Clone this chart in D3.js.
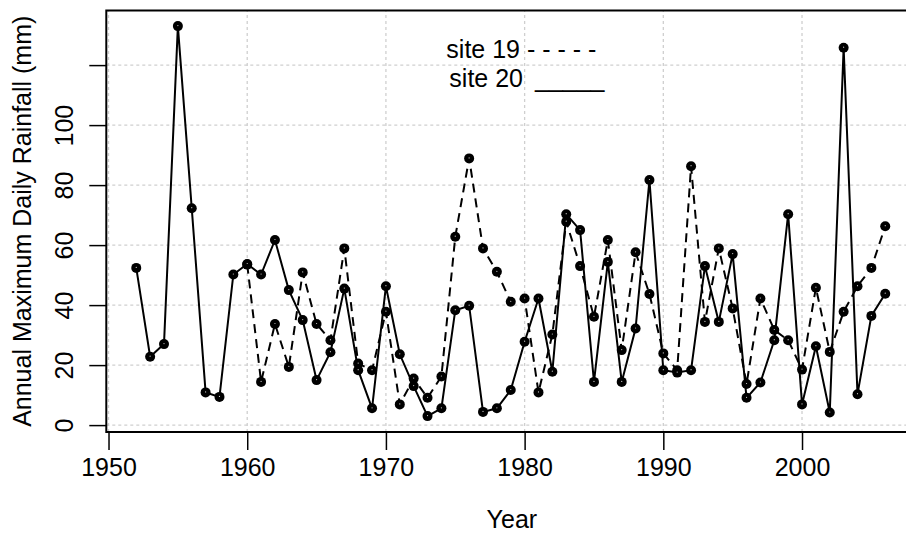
<!DOCTYPE html>
<html>
<head>
<meta charset="utf-8">
<script src="https://cdn.jsdelivr.net/npm/d3@7"></script>
<style>
  html, body { margin: 0; padding: 0; background: #fff; }
  svg { display: block; font-family: "Liberation Sans", Arial, sans-serif; }
</style>
</head>
<body>
<svg id="chart" width="906" height="535"></svg>
<script>
// ---- data ----
const years20 = [1952,1953,1954,1955,1956,1957,1958,1959,1960,1961,1962,1963,1964,1965,1966,1967,1968,1969,1970,1971,1972,1973,1974,1975,1976,1977,1978,1979,1980,1981,1982,1983,1984,1985,1986,1987,1988,1989,1990,1991,1992,1993,1994,1995,1996,1997,1998,1999,2000,2001,2002,2003,2004,2005,2006];
const site20 = [52.4,22.8,27,133,72.3,10.9,9.4,50.2,53.7,50.2,61.7,45,35,15,24.3,45.5,18.3,5.6,46.3,23.6,13,3,5.6,38.3,39.8,4.4,5.6,11.7,27.8,42.2,17.8,70.3,65,14.4,54.4,14.4,32.2,81.7,18.3,17.5,18.3,53,34.4,57,9.1,14.2,28.3,70.3,6.9,26.3,4.2,125.8,10.3,36.4,43.8];
const years19 = [1960,1961,1962,1963,1964,1965,1966,1967,1968,1969,1970,1971,1972,1973,1974,1975,1976,1977,1978,1979,1980,1981,1982,1983,1984,1985,1986,1987,1988,1989,1990,1991,1992,1993,1994,1995,1996,1997,1998,1999,2000,2001,2002,2003,2004,2005,2006];
const site19 = [53.5,14.4,33.7,19.4,50.9,33.7,28.3,58.9,20.5,18.3,37.8,6.9,15.5,9.1,16.2,62.8,88.9,58.9,51.1,41.1,42.2,10.9,30.2,67.8,53,36.1,61.7,25,57.6,43.7,23.9,18.3,86.3,34.4,58.9,38.9,13.7,42.2,31.7,28.3,18.5,45.8,24.4,37.8,46.3,52.4,66.3];
const xTicks = [1950,1960,1970,1980,1990,2000];
const yTicks = [0,20,40,60,80,100,120];
const yTickLabels = ["0","20","40","60","80","100",""];
const xTitle = "Year";
const yTitle = "Annual Maximum Daily Rainfall (mm)";
const legendLabels = ["site 19", "site 20"];
const legendStyles = ["- - - - -", "_____"];

// ---- layout ----
const svg = d3.select("#chart");
const FS = 25;
const FF = "Liberation Sans, Arial, sans-serif";
const x = d3.scaleLinear().domain([1949.84, 2008.16]).range([106.3, 915.2]);
const y = d3.scaleLinear().domain([-2.3, 138.2]).range([432, 10.5]);
const [x0, x1] = x.range();
const [yb, yt] = y.range();

// grid
const grid = svg.append("g").attr("stroke", "#cfcfcf").attr("stroke-width", 1.3).attr("stroke-dasharray", "3,3");
grid.selectAll("line.h").data(yTicks).join("line")
  .attr("x1", x0).attr("x2", x1).attr("y1", d => y(d)).attr("y2", d => y(d));
grid.selectAll("line.v").data(xTicks).join("line")
  .attr("x1", d => x(d)).attr("x2", d => x(d)).attr("y1", yb).attr("y2", yt);

// series
const pts19 = years19.map((yr, i) => [yr, site19[i]]);
const pts20 = years20.map((yr, i) => [yr, site20[i]]);
const line = d3.line().x(d => x(d[0])).y(d => y(d[1]));

svg.append("path").datum(pts19).attr("d", line)
  .attr("fill", "none").attr("stroke", "#000").attr("stroke-width", 2)
  .attr("stroke-dasharray", "9,6");
svg.append("path").datum(pts20).attr("d", line)
  .attr("fill", "none").attr("stroke", "#000").attr("stroke-width", 2);

function markers(pts) {
  const g = svg.append("g");
  g.selectAll("circle.m").data(pts).join("circle")
    .attr("cx", d => x(d[0])).attr("cy", d => y(d[1])).attr("r", 5).attr("fill", "#000");
  g.selectAll("circle.w").data(pts).join("circle")
    .attr("cx", d => x(d[0])).attr("cy", d => y(d[1]) - 0.5).attr("r", 0.6).attr("fill", "#fff").attr("opacity", 0.8);
}
markers(pts19);
markers(pts20);

// box (left, top, bottom)
svg.append("path")
  .attr("d", `M${x1},${yt}H${x0}V${yb}H${x1}`)
  .attr("fill", "none").attr("stroke", "#000").attr("stroke-width", 2);

// x axis
const xa = svg.append("g").attr("transform", `translate(0,${yb})`)
  .call(d3.axisBottom(x).tickValues(xTicks).tickFormat(d3.format("d")).tickSize(18).tickPadding(8));
xa.select(".domain").remove();
xa.selectAll(".tick line").attr("stroke", "#000").attr("stroke-width", 1.5);
xa.selectAll(".tick text").attr("font-size", FS).attr("font-family", FF).attr("fill", "#000");

// y axis
const ya = svg.append("g").attr("transform", `translate(${x0},0)`)
  .call(d3.axisLeft(y).tickValues(yTicks).tickFormat((d, i) => yTickLabels[i]).tickSize(17).tickPadding(0));
ya.select(".domain").remove();
ya.selectAll(".tick line").attr("stroke", "#000").attr("stroke-width", 1.5);
ya.selectAll(".tick text")
  .attr("font-size", FS).attr("font-family", FF).attr("fill", "#000")
  .attr("x", null).attr("dy", null).attr("text-anchor", "middle")
  .attr("transform", "translate(-33,0) rotate(-90)");

// titles
svg.append("text").attr("x", (x(1950) + x(2008.16)) / 2).attr("y", 528)
  .attr("text-anchor", "middle").attr("font-size", FS).text(xTitle);
svg.append("text").attr("transform", `translate(31,${(yt + yb) / 2}) rotate(-90)`)
  .attr("text-anchor", "middle").attr("font-size", FS).text(yTitle);

// legend
svg.append("text").attr("x", 520).attr("y", 58).attr("text-anchor", "end").attr("font-size", FS).text(legendLabels[0]);
svg.append("text").attr("x", 527).attr("y", 58).attr("text-anchor", "start").attr("font-size", FS).text(legendStyles[0]);
svg.append("text").attr("x", 523).attr("y", 87).attr("text-anchor", "end").attr("font-size", FS).text(legendLabels[1]);
svg.append("text").attr("x", 535).attr("y", 87).attr("text-anchor", "start").attr("font-size", FS).text(legendStyles[1]);
</script>
</body>
</html>
